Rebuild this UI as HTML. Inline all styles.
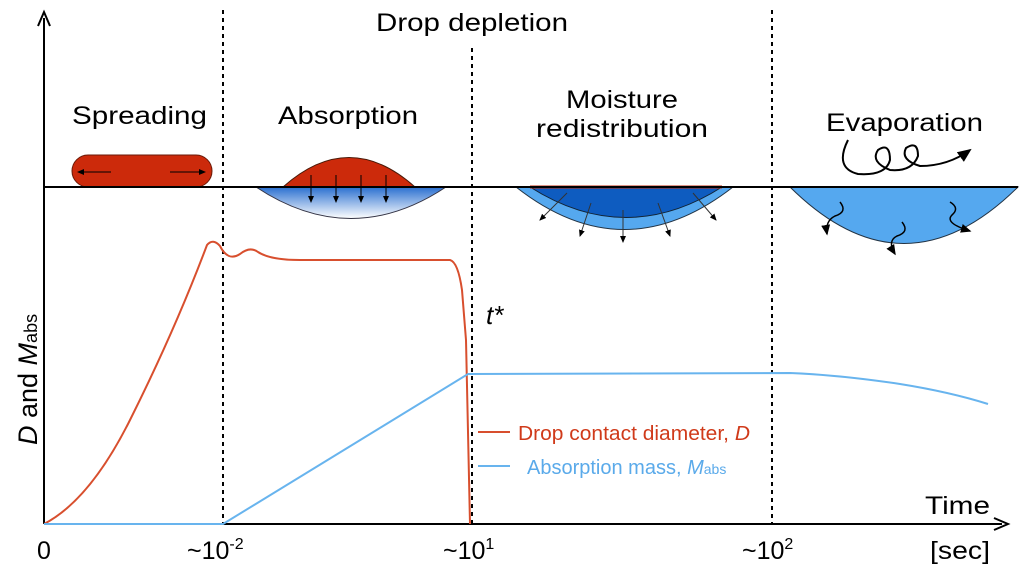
<!DOCTYPE html><html><head><style>body{margin:0;background:#fff}svg{display:block;font-family:"Liberation Sans",sans-serif}</style></head><body>
<svg width="1024" height="575" viewBox="0 0 1024 575">
<defs><linearGradient id="g" x1="0" y1="0" x2="0" y2="1"><stop offset="0" stop-color="#2a6fd0"/><stop offset="1" stop-color="#fff"/></linearGradient>
<marker id="a" markerWidth="8" markerHeight="8" refX="6" refY="4" orient="auto"><path d="M0,1 L7,4 L0,7z" fill="#000"/></marker></defs>
<g stroke="#000" stroke-width="2" stroke-dasharray="4,4"><line x1="223" y1="10" x2="223" y2="524"/><line x1="472" y1="48" x2="472" y2="524"/><line x1="772" y1="10" x2="772" y2="524"/></g>
<rect x="72" y="155" width="140" height="32" rx="16" fill="#cc2a0b" stroke="#6a1a08"/>
<line x1="111" y1="172" x2="78" y2="172" stroke="#000" marker-end="url(#a)"/><line x1="170" y1="172" x2="205" y2="172" stroke="#000" marker-end="url(#a)"/>
<path d="M256,187 Q351,250 446,187Z" fill="url(#g)" stroke="#334"/>
<path d="M283,187 Q349,128 415,187Z" fill="#cc2a0b" stroke="#4a1a08"/>
<g stroke="#000" marker-end="url(#a)"><line x1="311" y1="175" x2="311" y2="202"/><line x1="336" y1="175" x2="336" y2="202"/><line x1="361" y1="175" x2="361" y2="202"/><line x1="386" y1="175" x2="386" y2="202"/></g>
<path d="M516,187 Q624,272 733,187Z" fill="#55a8ef" stroke="#234"/>
<path d="M530,187 Q626,248 722,187Z" fill="#0e5cc0" stroke="#123"/>
<line x1="530" y1="187" x2="722" y2="187" stroke="#c02a0b" stroke-width="3"/>
<g stroke="#333" stroke-width="1" marker-end="url(#a)"><line x1="567" y1="193" x2="540" y2="220"/><line x1="591" y1="203" x2="580" y2="236"/><line x1="623" y1="210" x2="623" y2="242"/><line x1="658" y1="203" x2="670" y2="236"/><line x1="693" y1="193" x2="716" y2="220"/></g>
<path d="M790,187 Q904,300 1018,187Z" fill="#55a8ef" stroke="#234"/>
<g fill="none" stroke="#000" stroke-width="1.5" marker-end="url(#a)"><path d="M840,202 q8,10 -5,14 q-10,5 -8,18"/><path d="M902,222 q8,10 -5,14 q-10,5 -2,18"/><path d="M950,202 q10,6 2,13 q-8,8 18,16"/></g>
<path d="M848,140 q-14,28 10,34 q28,2 32,-14 q0,-18 -12,-10 q-8,12 12,20 q22,2 28,-14 q0,-16 -12,-8 q-6,12 14,18 q28,0 50,-16" fill="none" stroke="#000" stroke-width="2" marker-end="url(#a)"/>
<line x1="44" y1="187" x2="1018" y2="187" stroke="#000" stroke-width="2"/>
<line x1="44" y1="524" x2="44" y2="18" stroke="#000" stroke-width="2"/><path d="M38,26 L44,12 L50,26" fill="none" stroke="#000" stroke-width="2"/>
<line x1="44" y1="524" x2="1002" y2="524" stroke="#000" stroke-width="2"/><path d="M994,518 L1008,524 L994,530" fill="none" stroke="#000" stroke-width="2"/>
<path d="M44,524 Q90,500 130,420 Q175,330 207,245 Q213,238 220,246 Q228,262 240,254 Q250,246 258,252 Q270,260 300,260 L450,260 Q458,262 462,290 L466,340 L470,524" fill="none" stroke="#d84f2e" stroke-width="2"/>
<path d="M44,524 L223,524 L468,374 L790,373 Q840,375 900,384 Q950,392 988,404" fill="none" stroke="#68b4ee" stroke-width="2"/>
<line x1="478" y1="432" x2="510" y2="432" stroke="#d84f2e" stroke-width="2"/><line x1="478" y1="466" x2="510" y2="466" stroke="#68b4ee" stroke-width="2"/>
<g font-size="25" fill="#000" lengthAdjust="spacingAndGlyphs">
<text x="376" y="31" textLength="192" lengthAdjust="spacingAndGlyphs">Drop depletion</text>
<text x="72" y="124" textLength="135" lengthAdjust="spacingAndGlyphs">Spreading</text>
<text x="278" y="124" textLength="140" lengthAdjust="spacingAndGlyphs">Absorption</text>
<text x="566" y="108" textLength="112" lengthAdjust="spacingAndGlyphs">Moisture</text>
<text x="536" y="137" textLength="172" lengthAdjust="spacingAndGlyphs">redistribution</text>
<text x="826" y="131" textLength="157" lengthAdjust="spacingAndGlyphs">Evaporation</text>
<text x="925" y="514" textLength="65" lengthAdjust="spacingAndGlyphs">Time</text>
<text x="37" y="559">0</text>
<text x="930" y="559" textLength="60" lengthAdjust="spacingAndGlyphs">[sec]</text>
<text x="187" y="559">~10<tspan font-size="16" dy="-10">-2</tspan></text>
<text x="443" y="559">~10<tspan font-size="16" dy="-10">1</tspan></text>
<text x="742" y="559">~10<tspan font-size="16" dy="-10">2</tspan></text>
</g>
<text x="486" y="324" font-size="26" font-style="italic">t*</text>
<text x="518" y="440" font-size="20" fill="#d03a1a" textLength="232" lengthAdjust="spacingAndGlyphs">Drop contact diameter, <tspan font-style="italic">D</tspan></text>
<text x="527" y="474" font-size="20" fill="#5aaaea">Absorption mass, <tspan font-style="italic">M</tspan><tspan font-size="14">abs</tspan></text>
<text transform="translate(37,445) rotate(-90)" font-size="27"><tspan font-style="italic">D</tspan> and <tspan font-style="italic">M</tspan><tspan font-size="18">abs</tspan></text>
</svg></body></html>
